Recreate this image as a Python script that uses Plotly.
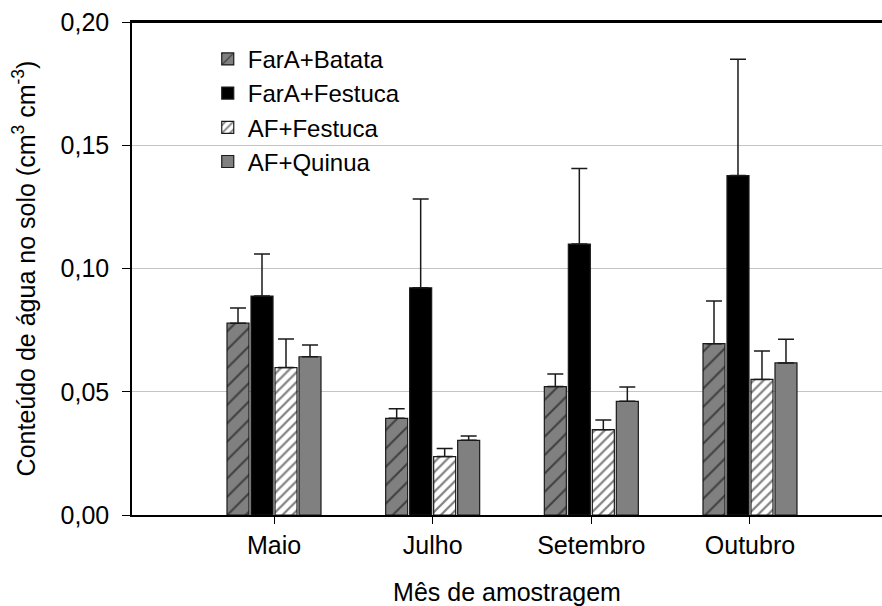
import plotly.graph_objects as go

months = ["Maio", "Julho", "Setembro", "Outubro"]

series_names = ["FarA+Batata", "FarA+Festuca", "AF+Festuca", "AF+Quinua"]

fara_batata = [0.0778, 0.0392, 0.0521, 0.0695]
fara_batata_err = [0.0062, 0.0039, 0.0051, 0.0173]

fara_festuca = [0.0888, 0.0922, 0.1099, 0.1377]
fara_festuca_err = [0.0171, 0.0360, 0.0307, 0.0472]

af_festuca = [0.0598, 0.0237, 0.0346, 0.0550]
af_festuca_err = [0.0116, 0.0033, 0.0039, 0.0115]

af_quinua = [0.0642, 0.0303, 0.0461, 0.0617]
af_quinua_err = [0.0048, 0.0017, 0.0058, 0.0096]

y_tick_values = [0.00, 0.05, 0.10, 0.15, 0.20]
y_tick_labels = ["0,00", "0,05", "0,10", "0,15", "0,20"]

FONT = "Liberation Sans, Arial, sans-serif"
EDGE = "#1a1a1a"

styles = [
    dict(color="#808080", pattern=dict(shape="/", bgcolor="#808080", fgcolor="#000000", size=13, solidity=0.16)),
    dict(color="#000000"),
    dict(color="#ffffff", pattern=dict(shape="/", bgcolor="#ffffff", fgcolor="#000000", size=7, solidity=0.32)),
    dict(color="#808080"),
]

values = [fara_batata, fara_festuca, af_festuca, af_quinua]
errors = [fara_batata_err, fara_festuca_err, af_festuca_err, af_quinua_err]

fig = go.Figure()
for name, vals, errs, st in zip(series_names, values, errors, styles):
    marker = dict(color=st["color"], line=dict(color=EDGE, width=1.2))
    if "pattern" in st:
        marker["pattern"] = st["pattern"]
    fig.add_trace(go.Bar(
        x=months, y=vals, name=name, marker=marker,
        error_y=dict(type="data", symmetric=False, array=errs,
                     arrayminus=[0] * len(errs), color=EDGE,
                     thickness=1.5, width=8),
    ))

fig.update_layout(
    width=882, height=606,
    margin=dict(l=132, r=0, t=22, b=91),
    paper_bgcolor="white", plot_bgcolor="white",
    barmode="group", bargap=0.395, bargroupgap=0.083,
    separators=",.",
    font=dict(family=FONT, size=25, color="#000000"),
    showlegend=True,
    legend=dict(x=0.101, y=0.97, xanchor="left", yanchor="top",
                bgcolor="rgba(0,0,0,0)", font=dict(family=FONT, size=24),
                tracegroupgap=0),
    shapes=[dict(type="line", xref="paper", yref="paper", x0=0, x1=1, y0=1, y1=1,
                 line=dict(color="#000000", width=2), layer="above")],
)

fig.update_xaxes(
    type="category", range=[-0.895, 3.832],
    showline=True, linecolor="#000000", linewidth=2, mirror=True,
    ticks="outside", ticklen=7, tickwidth=1.2, tickcolor="#000000",
    showgrid=False, zeroline=False,
    tickfont=dict(family=FONT, size=25),
    title=dict(text="Mês de amostragem", font=dict(family=FONT, size=25), standoff=25),
)

fig.update_yaxes(
    range=[0, 0.2], tickvals=y_tick_values, ticktext=y_tick_labels,
    showline=True, linecolor="#000000", linewidth=1.5,
    ticks="outside", ticklen=8, tickwidth=1.2, tickcolor="#000000",
    showgrid=True, gridcolor="#c4c4c4", gridwidth=1, zeroline=False,
    tickfont=dict(family=FONT, size=25), ticklabelstandoff=8,
    title=dict(text="Conteúdo de água no solo (cm<sup>3</sup> cm<sup>-3</sup>)",
               font=dict(family=FONT, size=25), standoff=18),
)

fig.write_html(
    "out.html",
    config={"displayModeBar": False},
    post_script="document.body.style.margin='0';document.body.style.overflow='hidden';",
)
